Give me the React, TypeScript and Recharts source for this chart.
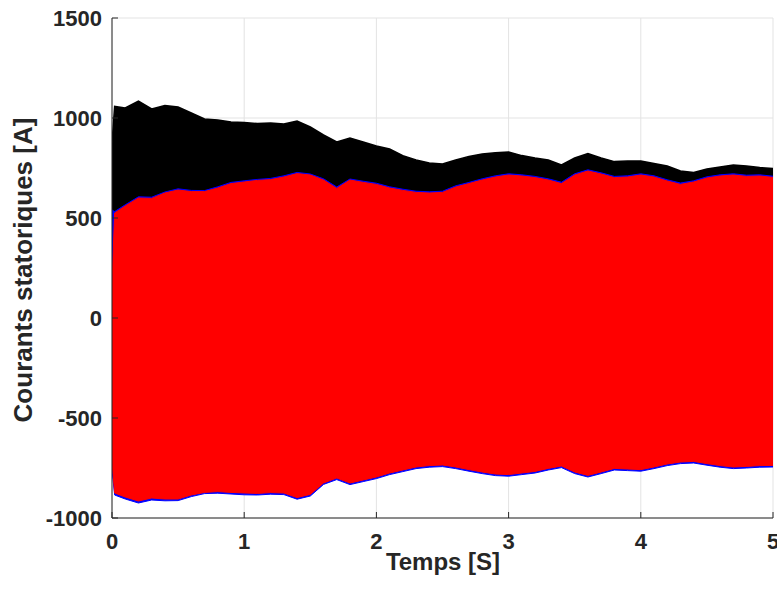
import React from "react";
import { ComposedChart, Area, XAxis, YAxis, CartesianGrid } from "recharts";

// time axis [s]
const temps = [
  0, 0.02, 0.1, 0.2, 0.3, 0.4, 0.5, 0.6, 0.7, 0.8,
  0.9, 1.0, 1.1, 1.2, 1.3, 1.4, 1.5, 1.6, 1.7, 1.8,
  1.9, 2.0, 2.1, 2.2, 2.3, 2.4, 2.5, 2.6, 2.7, 2.8,
  2.9, 3.0, 3.1, 3.2, 3.3, 3.4, 3.5, 3.6, 3.7, 3.8,
  3.9, 4.0, 4.1, 4.2, 4.3, 4.4, 4.5, 4.6, 4.7, 4.8,
  4.9, 5.0,
];

// envelopes of the three phase currents [A]
const noirHaut = [
  875, 1058, 1050, 1085, 1045, 1062, 1055, 1025, 995, 990,
  980, 978, 972, 975, 970, 985, 955, 915, 880, 900,
  880, 860, 845, 812, 790, 775, 770, 790, 808, 820,
  826, 830, 812, 800, 790, 765, 800, 822, 800, 782,
  785, 785, 773, 760, 735, 728, 745, 755, 765, 760,
  752, 748,
];
const noirBas = [
  -650, -560, -570, -580, -575, -585, -590, -585, -580, -590,
  -600, -605, -605, -605, -610, -620, -615, -590, -570, -585,
  -580, -570, -560, -550, -545, -540, -540, -550, -560, -570,
  -575, -580, -575, -570, -560, -550, -570, -585, -575, -560,
  -560, -565, -555, -545, -540, -535, -545, -550, -555, -555,
  -552, -550,
];
const bleuHaut = [
  540, 532, 566, 606, 604, 630, 646, 638, 637, 656,
  678, 686, 693, 698, 711, 728, 720, 696, 655, 695,
  684, 674, 656, 644, 634, 631, 634, 661, 678, 696,
  711, 721, 716, 708, 696, 679, 721, 741, 726, 708,
  711, 721, 711, 691, 675, 686, 706, 716, 721, 714,
  716, 709,
];
const bleuBas = [
  -760, -885, -905, -925, -910, -914, -913, -893, -878, -876,
  -880, -884, -885, -881, -883, -906, -890, -832, -808, -833,
  -818, -803, -783, -768, -753, -746, -743, -753, -766, -778,
  -788, -791, -783, -775, -760, -748, -778, -795, -778, -760,
  -763, -766, -753, -738, -728, -725, -736, -746, -753, -750,
  -746, -745,
];
const rougeHaut = [
  175, 525, 560, 600, 598, 625, 640, 632, 632, 650,
  672, 680, 688, 692, 705, 722, 715, 690, 648, 690,
  678, 668, 650, 638, 628, 625, 628, 655, 672, 690,
  705, 715, 710, 702, 690, 672, 715, 735, 720, 702,
  705, 715, 705, 685, 668, 680, 700, 710, 715, 708,
  710, 703,
];
const rougeBas = [
  -720, -875, -895, -915, -900, -905, -905, -885, -872, -868,
  -872, -875, -877, -873, -875, -898, -882, -825, -800, -825,
  -810, -795, -775, -760, -745, -738, -735, -745, -758, -770,
  -780, -783, -775, -767, -752, -740, -770, -787, -770, -752,
  -755, -758, -745, -730, -720, -717, -728, -738, -745, -742,
  -738, -737,
];

const xTicks = [0, 1, 2, 3, 4, 5];
const yTicks = [-1000, -500, 0, 500, 1000, 1500];

const data = temps.map((t, i) => ({
  t,
  noir: [noirBas[i], noirHaut[i]],
  bleu: [bleuBas[i], bleuHaut[i]],
  rouge: [rougeBas[i], rougeHaut[i]],
}));

const FONT = "'Liberation Sans', Arial, Helvetica, sans-serif";
const AXIS = "#262626";

const BottomTick = (p: any) => (
  <g>
    <line x1={p.x} y1={p.y} x2={p.x} y2={p.y - 6} stroke={AXIS} strokeWidth={1} />
    <text x={p.x} y={p.y + 23} textAnchor="middle" dominantBaseline="central" fill={AXIS} fontSize={22} fontWeight="bold" fontFamily={FONT}>
      {p.payload.value}
    </text>
  </g>
);
const TopTick = (p: any) => <line x1={p.x} y1={p.y} x2={p.x} y2={p.y + 6} stroke={AXIS} strokeWidth={1} />;
const LeftTick = (p: any) => (
  <g>
    <line x1={p.x} y1={p.y} x2={p.x + 6} y2={p.y} stroke={AXIS} strokeWidth={1} />
    <text x={p.x - 10} y={p.y} textAnchor="end" dominantBaseline="central" fill={AXIS} fontSize={22} fontWeight="bold" fontFamily={FONT}>
      {p.payload.value}
    </text>
  </g>
);
const RightTick = (p: any) => <line x1={p.x} y1={p.y} x2={p.x - 6} y2={p.y} stroke={AXIS} strokeWidth={1} />;

export default function App() {
  return (
    <div style={{ position: "absolute", left: 0, top: 0, width: 777, height: 590, background: "#fff" }}>
      <ComposedChart width={777} height={590} data={data} margin={{ top: 18, right: 4, left: 52, bottom: 32 }}>
        <CartesianGrid stroke="#e3e3e3" strokeWidth={1} />
        <XAxis
          dataKey="t"
          type="number"
          domain={[0, 5]}
          ticks={xTicks}
          allowDataOverflow
          height={40}
          tickSize={0}
          tickMargin={0}
          tickLine={false}
          axisLine={{ stroke: AXIS }}
          tick={<BottomTick />}
        />
        <XAxis
          xAxisId="top"
          orientation="top"
          type="number"
          domain={[0, 5]}
          ticks={xTicks}
          allowDataOverflow
          height={0}
          tickSize={0}
          tickMargin={0}
          tickLine={false}
          axisLine={{ stroke: AXIS }}
          tick={<TopTick />}
        />
        <YAxis
          type="number"
          domain={[-1000, 1500]}
          ticks={yTicks}
          allowDataOverflow
          width={60}
          tickSize={0}
          tickMargin={0}
          tickLine={false}
          axisLine={{ stroke: AXIS }}
          tick={<LeftTick />}
        />
        <YAxis
          yAxisId="right"
          orientation="right"
          type="number"
          domain={[-1000, 1500]}
          ticks={yTicks}
          allowDataOverflow
          width={0}
          tickSize={0}
          tickMargin={0}
          tickLine={false}
          axisLine={{ stroke: AXIS }}
          tick={<RightTick />}
        />
        <Area type="linear" dataKey="noir" stroke="#000000" strokeWidth={1.5} fill="#000000" fillOpacity={1} isAnimationActive={false} />
        <Area type="linear" dataKey="bleu" stroke="#0000ff" strokeWidth={1} fill="#0000ff" fillOpacity={1} isAnimationActive={false} />
        <Area type="linear" dataKey="rouge" stroke="#ff0000" strokeWidth={1} fill="#ff0000" fillOpacity={1} isAnimationActive={false} />
        <text x={443} y={570} textAnchor="middle" fill={AXIS} fontSize={24} fontWeight="bold" fontFamily={FONT}>
          Temps [S]
        </text>
        <text x={32} y={270} transform="rotate(-90 32 270)" textAnchor="middle" fill={AXIS} fontSize={26} fontWeight="bold" fontFamily={FONT}>
          Courants statoriques [A]
        </text>
      </ComposedChart>
    </div>
  );
}
